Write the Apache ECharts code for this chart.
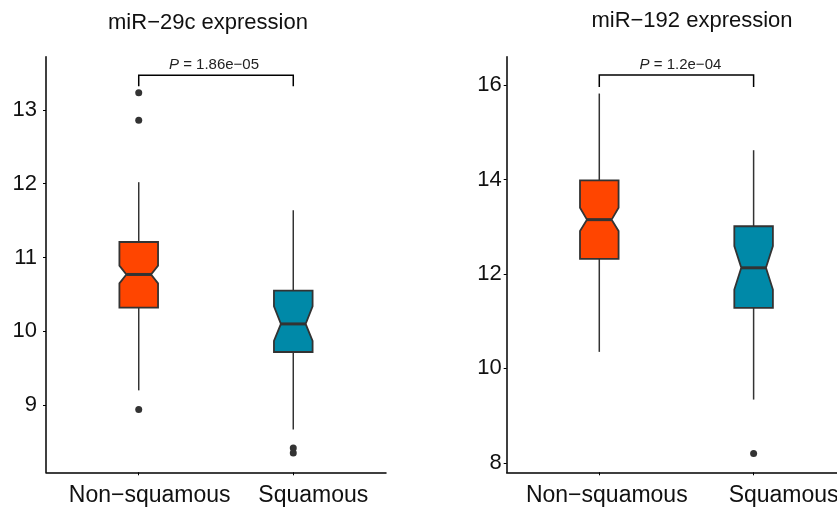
<!DOCTYPE html>
<html><head><meta charset="utf-8">
<script src="https://cdn.jsdelivr.net/npm/echarts@6/dist/echarts.min.js"></script>
<style>html,body{margin:0;padding:0;background:#fff}#c{width:837px;height:511px}</style>
</head><body><div id="c"></div>
<script>
const categories = ['Non−squamous', 'Squamous'];
const titles = ['miR−29c expression', 'miR−192 expression'];
// [low whisker, Q1, median, Q3, high whisker]
const mir29cBox = [[9.20, 10.32, 10.77, 11.21, 12.02], [8.67, 9.72, 10.10, 10.55, 11.64]];
const mir29cNotch = [[10.65, 10.89], [9.87, 10.34]];
const mir29cOutliers = [[1, 13.23], [1, 12.86], [1, 8.94], [2, 8.42], [2, 8.35]];
const mir192Box = [[10.35, 12.32, 13.15, 13.98, 15.82], [9.34, 11.28, 12.13, 13.01, 14.62]];
const mir192Notch = [[12.91, 13.40], [11.67, 12.59]];
const mir192Outliers = [[2, 8.20]];
const pValues = ['1.86e−05', '1.2e−04'];
const bracketLevels = [[13.47, 13.32], [16.21, 15.96]];
const yTicks = [[9, 10, 11, 12, 13], [8, 10, 12, 14, 16]];
const yRanges = [[8.09, 13.72], [7.80, 16.60]];

const FONT = 'Liberation Sans, Arial, sans-serif';
const boxColors = ['#FF4500', '#0089A8'];

function boxData(box, notch) {
  return box.map((b, i) => [i + 1, b[0], b[1], b[2], b[3], b[4], notch[i][0], notch[i][1]]);
}

function renderBox(params, api) {
  const x = api.value(0);
  const py = (v) => api.coord([x, v])[1];
  const cx = api.coord([x, api.value(3)])[0];
  const halfW = api.size([0.25, 0])[0] / 2;
  const inset = halfW * 0.36;
  const yLo = py(api.value(1)), yQ1 = py(api.value(2)), yMed = py(api.value(3)),
        yQ3 = py(api.value(4)), yHi = py(api.value(5)), yNlo = py(api.value(6)), yNhi = py(api.value(7));
  const xl = cx - halfW, xr = cx + halfW;
  return {
    type: 'group', children: [
      { type: 'line', shape: { x1: cx, y1: yHi, x2: cx, y2: yQ3 }, style: { stroke: '#333', lineWidth: 1.5 } },
      { type: 'line', shape: { x1: cx, y1: yQ1, x2: cx, y2: yLo }, style: { stroke: '#333', lineWidth: 1.5 } },
      { type: 'polygon', shape: { points: [[xl, yQ3], [xr, yQ3], [xr, yNhi], [xr - inset, yMed], [xr, yNlo], [xr, yQ1], [xl, yQ1], [xl, yNlo], [xl + inset, yMed], [xl, yNhi]] },
        style: { fill: boxColors[params.dataIndex], stroke: '#333', lineWidth: 1.8, lineJoin: 'miter' } },
      { type: 'line', shape: { x1: xl + inset, y1: yMed, x2: xr - inset, y2: yMed }, style: { stroke: '#333', lineWidth: 3 } }
    ]
  };
}

function renderBracket(params, api) {
  const a = api.coord([api.value(0), api.value(2)]);
  const b = api.coord([api.value(1), api.value(2)]);
  const yb = api.coord([api.value(0), api.value(3)])[1];
  const panel = params.seriesIndex === 1 ? 0 : 1;
  return {
    type: 'group', children: [
      { type: 'polyline', shape: { points: [[a[0], yb], [a[0], a[1]], [b[0], a[1]], [b[0], yb]] }, style: { stroke: '#000', lineWidth: 1.5, fill: null } },
      { type: 'text', style: { x: (a[0] + b[0]) / 2 + (panel === 1 ? 4 : -2), y: a[1] - 3, align: 'center', verticalAlign: 'bottom',
          text: '{i|P} = ' + pValues[panel],
          fontSize: 15, fontFamily: FONT, fill: '#222',
          rich: { i: { fontStyle: 'italic', fontSize: 15, fontFamily: FONT, fill: '#222' } } } }
    ]
  };
}

function makeX(gi, pads) {
  return {
    type: 'value', gridIndex: gi, min: 0.4, max: 2.6,
    axisLine: { show: true, onZero: false, lineStyle: { color: '#000', width: 1.5 } },
    axisTick: { show: true, customValues: [1, 2], length: 3, lineStyle: { color: '#000', width: 1 } },
    splitLine: { show: false },
    axisLabel: {
      customValues: [1, 2], margin: 12, fontSize: 23, fontFamily: FONT, color: '#111',
      formatter: (v) => (v === 1 ? '{a|' + categories[0] + '}' : '{b|' + categories[1] + '}'),
      rich: {
        a: { padding: [0, 0, 0, pads[0]], fontSize: 23, fontFamily: FONT, color: '#111' },
        b: { padding: [0, 0, 0, pads[1]], fontSize: 23, fontFamily: FONT, color: '#111' }
      }
    }
  };
}

function makeY(gi, margin) {
  return {
    type: 'value', gridIndex: gi, min: yRanges[gi][0], max: yRanges[gi][1],
    axisLine: { show: true, onZero: false, lineStyle: { color: '#000', width: 1.5 } },
    axisTick: { show: true, customValues: yTicks[gi], length: 3, lineStyle: { color: '#000', width: 1 } },
    splitLine: { show: false },
    axisLabel: { customValues: yTicks[gi], margin: margin, fontSize: 22, fontFamily: FONT, color: '#111' }
  };
}

const chart = echarts.init(document.getElementById('c'), null, { renderer: 'canvas' });
chart.setOption({
  backgroundColor: '#fff',
  animation: false,
  title: [
    { text: titles[0], left: 208, top: 12, textAlign: 'center', padding: 0,
      textStyle: { fontSize: 22, fontWeight: 'normal', fontFamily: FONT, color: '#111' } },
    { text: titles[1], left: 692, top: 10, textAlign: 'center', padding: 0,
      textStyle: { fontSize: 22, fontWeight: 'normal', fontFamily: FONT, color: '#111' } }
  ],
  grid: [
    { left: 46, top: 56.7, width: 340, height: 415.6, containLabel: false, outerBoundsMode: 'none' },
    { left: 506.7, top: 56.7, width: 339.5, height: 415.6, containLabel: false, outerBoundsMode: 'none' }
  ],
  xAxis: [makeX(0, [22, 40]), makeX(1, [15, 60])],
  yAxis: [makeY(0, 9), makeY(1, 5)],
  series: [
    { type: 'custom', xAxisIndex: 0, yAxisIndex: 0, renderItem: renderBox, data: boxData(mir29cBox, mir29cNotch), encode: { x: 0, y: [1, 5] }, z: 2 },
    { type: 'custom', xAxisIndex: 0, yAxisIndex: 0, renderItem: renderBracket, data: [[1, 2, bracketLevels[0][0], bracketLevels[0][1]]], encode: { x: [0, 1], y: [2, 3] }, z: 3 },
    { type: 'scatter', xAxisIndex: 0, yAxisIndex: 0, data: mir29cOutliers, symbolSize: 7, itemStyle: { color: '#333', opacity: 1 }, z: 4 },
    { type: 'custom', xAxisIndex: 1, yAxisIndex: 1, renderItem: renderBox, data: boxData(mir192Box, mir192Notch), encode: { x: 0, y: [1, 5] }, z: 2 },
    { type: 'custom', xAxisIndex: 1, yAxisIndex: 1, renderItem: renderBracket, data: [[1, 2, bracketLevels[1][0], bracketLevels[1][1]]], encode: { x: [0, 1], y: [2, 3] }, z: 3 },
    { type: 'scatter', xAxisIndex: 1, yAxisIndex: 1, data: mir192Outliers, symbolSize: 7, itemStyle: { color: '#333', opacity: 1 }, z: 4 }
  ]
});
</script></body></html>
